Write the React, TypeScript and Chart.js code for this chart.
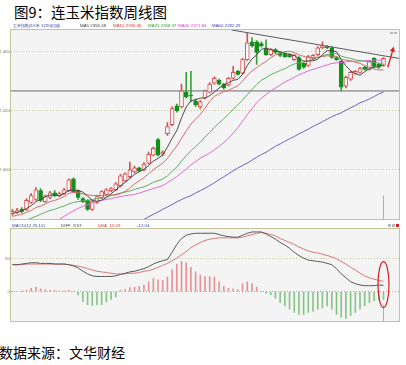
import React, { useEffect, useRef } from 'react';
import { Chart, registerables } from 'chart.js';

Chart.register(...registerables);

// ---------- weekly candles (price) ----------
const opens = [
  1853, 1857, 1867, 1867, 1890, 1900, 1930, 1893, 1907, 1923,
  1913, 1920, 1930, 1970, 1930, 1903, 1897, 1867, 1890, 1907,
  1917, 1930, 1933, 1947, 1963, 1977, 1993, 2007, 2000, 2023,
  2050, 2103, 2053, 2123, 2153, 2217, 2213, 2263, 2253, 2233,
  2213, 2243, 2263, 2293, 2303, 2290, 2287, 2310, 2333, 2327,
  2373, 2433, 2433, 2427, 2413, 2390, 2407, 2397, 2393, 2390,
  2373, 2380, 2360, 2353, 2377, 2390, 2413, 2417, 2413, 2380,
  2367, 2283, 2307, 2327, 2330, 2347, 2340, 2377, 2357, 2353,
];
const closes = [
  1860, 1863, 1860, 1897, 1913, 1933, 1897, 1910, 1923, 1913,
  1920, 1933, 1967, 1927, 1907, 1893, 1867, 1893, 1910, 1927,
  1933, 1937, 1953, 1980, 1987, 2000, 2007, 1997, 2020, 2053,
  2073, 2050, 2060, 2147, 2207, 2200, 2267, 2247, 2250, 2220,
  2230, 2267, 2290, 2310, 2290, 2277, 2310, 2330, 2323, 2373,
  2430, 2420, 2397, 2420, 2390, 2407, 2397, 2387, 2383, 2383,
  2387, 2340, 2347, 2383, 2387, 2413, 2420, 2413, 2380, 2373,
  2280, 2313, 2330, 2333, 2343, 2340, 2367, 2350, 2347, 2377,
];
const highs = [
  1867, 1870, 1873, 1903, 1920, 1940, 1937, 1915, 1928, 1930,
  1925, 1938, 1970, 1973, 1933, 1907, 1900, 1898, 1915, 1930,
  1937, 1940, 1957, 1985, 1990, 2027, 2013, 2010, 2025, 2060,
  2077, 2107, 2065, 2160, 2213, 2223, 2290, 2330, 2333, 2240,
  2235, 2270, 2295, 2315, 2307, 2293, 2313, 2350, 2337, 2377,
  2463, 2447, 2437, 2433, 2440, 2410, 2410, 2400, 2397, 2393,
  2390, 2383, 2363, 2387, 2390, 2417, 2433, 2420, 2417, 2383,
  2370, 2317, 2333, 2337, 2347, 2350, 2370, 2380, 2360, 2380,
];
const lows = [
  1847, 1853, 1855, 1863, 1887, 1897, 1893, 1890, 1903, 1910,
  1910, 1917, 1927, 1923, 1900, 1890, 1863, 1863, 1887, 1903,
  1913, 1927, 1930, 1943, 1960, 1973, 1990, 1993, 1997, 2020,
  2047, 2047, 2047, 2117, 2150, 2195, 2210, 2243, 2230, 2215,
  2208, 2240, 2260, 2290, 2287, 2273, 2283, 2307, 2320, 2323,
  2370, 2415, 2357, 2415, 2387, 2387, 2393, 2383, 2380, 2380,
  2370, 2337, 2343, 2350, 2373, 2387, 2410, 2410, 2377, 2370,
  2267, 2277, 2303, 2323, 2327, 2337, 2337, 2347, 2343, 2350,
];

// ---------- moving averages ----------
const ma5 = [
  1853, 1857, 1860, 1870, 1879, 1893, 1900, 1910, 1915, 1915,
  1913, 1920, 1931, 1932, 1931, 1925, 1912, 1897, 1894, 1898,
  1906, 1920, 1932, 1946, 1958, 1971, 1985, 1994, 2002, 2015,
  2030, 2039, 2051, 2077, 2107, 2133, 2176, 2213, 2234, 2237,
  2243, 2243, 2251, 2263, 2277, 2287, 2295, 2303, 2306, 2323,
  2353, 2375, 2389, 2408, 2411, 2407, 2402, 2400, 2393, 2391,
  2387, 2376, 2368, 2368, 2369, 2374, 2390, 2403, 2403, 2400,
  2373, 2352, 2335, 2326, 2320, 2332, 2343, 2347, 2349, 2356,
];
const ma10 = [
  1843, 1847, 1850, 1857, 1863, 1873, 1878, 1885, 1893, 1897,
  1903, 1910, 1921, 1924, 1923, 1919, 1916, 1914, 1913, 1914,
  1916, 1916, 1915, 1920, 1928, 1939, 1953, 1963, 1974, 1987,
  2001, 2012, 2023, 2039, 2061, 2081, 2107, 2132, 2155, 2172,
  2188, 2209, 2232, 2249, 2257, 2265, 2269, 2277, 2285, 2300,
  2320, 2335, 2346, 2357, 2367, 2380, 2389, 2394, 2400, 2401,
  2397, 2389, 2384, 2380, 2380, 2381, 2383, 2386, 2385, 2384,
  2374, 2371, 2369, 2364, 2360, 2353, 2347, 2341, 2338, 2338,
];
const ma20 = [
  1813, 1820, 1823, 1830, 1837, 1843, 1850, 1857, 1863, 1867,
  1873, 1878, 1885, 1890, 1893, 1896, 1897, 1900, 1903, 1906,
  1909, 1913, 1918, 1922, 1925, 1929, 1934, 1939, 1943, 1950,
  1958, 1964, 1969, 1980, 1995, 2010, 2030, 2048, 2065, 2079,
  2094, 2111, 2127, 2144, 2159, 2173, 2188, 2205, 2220, 2236,
  2254, 2272, 2289, 2303, 2312, 2322, 2329, 2336, 2342, 2351,
  2358, 2362, 2365, 2369, 2373, 2380, 2386, 2390, 2393, 2393,
  2385, 2380, 2377, 2372, 2370, 2367, 2365, 2363, 2361, 2361,
];
const ma30 = [
  null, null, null, null, null, null, null, null, null, null,
  1833, 1843, 1853, 1862, 1870, 1877, 1883, 1888, 1893, 1897,
  1900, 1903, 1907, 1910, 1913, 1915, 1917, 1922, 1927, 1932,
  1937, 1942, 1947, 1957, 1967, 1978, 1990, 2003, 2017, 2028,
  2040, 2048, 2057, 2068, 2080, 2093, 2107, 2125, 2143, 2165,
  2187, 2207, 2227, 2243, 2255, 2267, 2277, 2287, 2297, 2305,
  2313, 2322, 2328, 2335, 2340, 2345, 2350, 2355, 2360, 2362,
  2363, 2365, 2367, 2367, 2368, 2369, 2370, 2371, 2371, 2372,
];
const ma60 = [
  null, null, null, null, null, null, null, null, null, null,
  null, null, null, null, null, null, null, null, null, null,
  null, null, null, null, null, null, 1817, 1825, 1833, 1842,
  1850, 1858, 1867, 1875, 1883, 1892, 1900, 1907, 1913, 1922,
  1930, 1938, 1947, 1957, 1967, 1977, 1987, 1997, 2007, 2015,
  2023, 2033, 2043, 2052, 2060, 2070, 2080, 2088, 2097, 2105,
  2113, 2122, 2130, 2138, 2147, 2155, 2163, 2172, 2180, 2187,
  2193, 2202, 2210, 2218, 2227, 2233, 2240, 2248, 2257, 2263,
];

// ---------- MACD ----------
const diff = [
  41, 41, 42, 43, 44, 44, 43, 43, 43, 42,
  42, 42, 41, 39, 36, 31, 27, 24, 23, 23,
  23, 23, 24, 26, 28, 30, 31, 33, 35, 38,
  42, 45, 47, 49, 60, 72, 81, 86, 88, 89,
  89, 89, 89, 89, 87, 85, 84, 83, 83, 86,
  89, 91, 91, 91, 88, 84, 80, 75, 71, 66,
  60, 55, 51, 48, 47, 46, 45, 43, 41, 35,
  27, 21, 15, 12, 10, 9, 9, 9, 10, 9.57,
];
const dea = [
  41, 41, 41, 42, 42, 42, 42, 42, 42, 42,
  42, 42, 41, 40, 39, 37, 35, 33, 31, 30,
  29, 28, 27, 27, 27, 28, 28, 29, 31, 32,
  34, 37, 40, 43, 47, 51, 56, 61, 67, 71,
  75, 78, 80, 81, 82, 82, 82, 82, 82, 83,
  85, 87, 89, 90, 89, 87, 85, 81, 78, 75,
  72, 68, 65, 62, 60, 59, 57, 55, 53, 50,
  46, 42, 37, 33, 28, 24, 21, 19, 17, 15.59,
];
const macdHist = [
  0, 0, 1, 2, 5, 7, 4, 3, 2, 2,
  1, 1, 2, 0, -5, -15, -20, -21, -20, -20,
  -16, -12, -8, 2, 3, 6, 7, 8, 10, 15,
  20, 18, 17, 22, 33, 42, 46, 44, 37, 30,
  25, 23, 23, 22, 15, 8, 5, 4, 3, 12,
  15, 12, 7, 0, -3, -5, -10, -17, -22, -27,
  -32, -35, -35, -32, -30, -27, -25, -22, -27, -35,
  -39, -41, -37, -32, -27, -22, -17, -14, -13, -12.04,
];

const priceTicks = [2000, 2200, 2400];
const macdTicks = [0, 50];
const supportLevel = 2267;
const trendStart = { x: 46.7, y: 2473 };
const trendEnd = { x: 82.3, y: 2377 };
const arrowFrom = { x: 79.9, y: 2347 };
const arrowTo = { x: 81.2, y: 2417 };
const cursorIndex = 79;

const mainLegend = [
  { text: '玉米指数(DCE 1220)周线', color: '#2a3f9a', x: 13 },
  { text: 'MA5 2355.48', color: '#404040', x: 80 },
  { text: 'MA10 2336.46', color: '#d04040', x: 113 },
  { text: 'MA20 2358.37', color: '#30a030', x: 148 },
  { text: 'MA30 2371.84', color: '#d040d0', x: 178 },
  { text: 'MA60 2282.29', color: '#4040c0', x: 212 },
];
const macdLegend = [
  { text: 'MACD(12,26,10)', color: '#3a4aa0', x: 12 },
  { text: 'DIFF  9.57', color: '#404040', x: 61 },
  { text: 'DEA  15.59', color: '#d04040', x: 98 },
  { text: '-12.04', color: '#3a4aa0', x: 137 },
];

const X_MIN = -0.3;
const X_MAX = 82.3;
const PANEL_BG = '#f4f4f4';
const BORDER = '#c4c49a';
const GRID = '#c8c890';
const UP = '#d85050';
const DOWN = '#12901a';
const WICK_DOWN = '#3aa03a';
const TINY = '"Liberation Sans", "DejaVu Sans", sans-serif';

const pts = (arr: (number | null)[]) => arr.map((v, i) => ({ x: i, y: v }));

function panelPlugin(id: string, legend: { text: string; color: string; x: number }[], legendY: number, extra: (chart: any) => void) {
  return {
    id,
    beforeDraw(chart: any) {
      const { ctx, chartArea: a } = chart;
      ctx.save();
      ctx.fillStyle = PANEL_BG;
      ctx.fillRect(a.left, a.top, a.right - a.left, a.bottom - a.top);
      ctx.restore();
    },
    afterDraw(chart: any) {
      const { ctx, chartArea: a } = chart;
      ctx.save();
      ctx.strokeStyle = BORDER;
      ctx.lineWidth = 1;
      ctx.strokeRect(Math.round(a.left) - 0.5, Math.round(a.top) - 0.5, Math.round(a.right - a.left) + 1, Math.round(a.bottom - a.top) + 1);
      ctx.font = '4.4px ' + TINY;
      ctx.textBaseline = 'middle';
      ctx.textAlign = 'left';
      legend.forEach((l) => {
        ctx.fillStyle = l.color;
        ctx.fillText(l.text, l.x, legendY);
      });
      extra(chart);
      ctx.restore();
    },
  };
}

export default function App() {
  const mainRef = useRef<HTMLCanvasElement>(null);
  const macdRef = useRef<HTMLCanvasElement>(null);

  useEffect(() => {
    const isUp = (i: number) => closes[i] >= opens[i];

    const mainExtra = (chart: any) => {
      const { ctx, scales, chartArea: a } = chart;
      const xs = scales.x;
      const ys = scales.y;
      const cx = Math.round(xs.getPixelForValue(cursorIndex)) + 0.5;
      ctx.strokeStyle = '#a9aad6';
      ctx.lineWidth = 1;
      ctx.beginPath();
      ctx.moveTo(cx, ys.getPixelForValue(1913));
      ctx.lineTo(cx, a.bottom);
      ctx.stroke();
      const x1 = xs.getPixelForValue(arrowFrom.x);
      const y1 = ys.getPixelForValue(arrowFrom.y);
      const x2 = xs.getPixelForValue(arrowTo.x);
      const y2 = ys.getPixelForValue(arrowTo.y);
      const ang = Math.atan2(y2 - y1, x2 - x1);
      ctx.strokeStyle = '#e01818';
      ctx.fillStyle = '#e01818';
      ctx.lineWidth = 1.3;
      ctx.beginPath();
      ctx.moveTo(x1, y1);
      ctx.lineTo(x2 - 3 * Math.cos(ang), y2 - 3 * Math.sin(ang));
      ctx.stroke();
      ctx.beginPath();
      ctx.moveTo(x2, y2);
      ctx.lineTo(x2 - 5 * Math.cos(ang) + 2.5 * Math.sin(ang), y2 - 5 * Math.sin(ang) - 2.5 * Math.cos(ang));
      ctx.lineTo(x2 - 5 * Math.cos(ang) - 2.5 * Math.sin(ang), y2 - 5 * Math.sin(ang) + 2.5 * Math.cos(ang));
      ctx.closePath();
      ctx.fill();
      ctx.fillStyle = '#b8b8b8';
      ctx.fillRect(a.right - 9, a.top + 2, 3, 2);
      ctx.fillRect(a.right - 5, a.top + 2, 3, 2);
    };

    const macdExtra = (chart: any) => {
      const { ctx, scales, chartArea: a } = chart;
      const xs = scales.x;
      const ys = scales.y;
      const cx = Math.round(xs.getPixelForValue(cursorIndex)) + 0.5;
      ctx.strokeStyle = '#a9aad6';
      ctx.lineWidth = 1;
      ctx.beginPath();
      ctx.moveTo(cx, ys.getPixelForValue(-20));
      ctx.lineTo(cx, a.bottom);
      ctx.stroke();
      ctx.strokeStyle = '#d42020';
      ctx.lineWidth = 1.2;
      ctx.beginPath();
      ctx.ellipse(xs.getPixelForValue(79), ys.getPixelForValue(10.6), 5.5, 23, 0, 0, Math.PI * 2);
      ctx.stroke();
      ctx.fillStyle = '#b8b8b8';
      ctx.fillRect(a.right - 11, 1, 3, 3);
      ctx.fillRect(a.right - 7, 1, 3, 3);
      ctx.fillStyle = '#e02020';
      ctx.fillRect(a.right - 3, 1, 3, 3);
    };

    const lineDs = (label: string, data: (number | null)[], color: string) => ({
      type: 'line' as const,
      label,
      data: pts(data),
      borderColor: color,
      borderWidth: 1,
      pointRadius: 0,
      tension: 0,
      order: 0,
    });

    const yAxisCommon = {
      afterFit: (s: any) => { s.width = 11; },
      ticks: { font: { size: 4.4, family: TINY }, color: '#7a7a5a', padding: 1 },
      border: { display: false, dash: [1, 2] },
    };

    const c1 = new Chart(mainRef.current as HTMLCanvasElement, {
      type: 'bar',
      data: {
        datasets: [
          lineDs('MA5', ma5, '#4a4a4a'),
          lineDs('MA10', ma10, '#d46a6a'),
          lineDs('MA20', ma20, '#5cb05c'),
          lineDs('MA30', ma30, '#dc6ad8'),
          lineDs('MA60', ma60, '#6a62c4'),
          {
            type: 'line' as const,
            label: 'trend',
            data: [trendStart, trendEnd],
            borderColor: '#5a5a5a',
            borderWidth: 1,
            pointRadius: 0,
            order: 0,
          },
          {
            type: 'line' as const,
            label: 'support',
            data: [{ x: X_MIN, y: supportLevel }, { x: X_MAX, y: supportLevel }],
            borderColor: '#6a6a6a',
            borderWidth: 1,
            pointRadius: 0,
            order: 3,
          },
          {
            type: 'bar' as const,
            label: 'body',
            data: opens.map((o, i) => ({ x: i, y: [o, closes[i]] })) as any,
            backgroundColor: (c: any) => (isUp(c.dataIndex) ? '#fbfbfb' : DOWN),
            borderColor: (c: any) => (isUp(c.dataIndex) ? UP : DOWN),
            borderWidth: 1,
            borderSkipped: false,
            barThickness: 4,
            minBarLength: 1,
            grouped: false,
            order: 1,
          },
          {
            type: 'bar' as const,
            label: 'wick',
            data: lows.map((l, i) => ({ x: i, y: [l, highs[i]] })) as any,
            backgroundColor: (c: any) => (isUp(c.dataIndex) ? UP : WICK_DOWN),
            borderWidth: 0,
            barThickness: 1,
            grouped: false,
            order: 2,
          },
        ] as any,
      },
      options: {
        responsive: false,
        animation: false,
        layout: { padding: { left: 0, right: 7, top: 10, bottom: 1 } },
        plugins: { legend: { display: false }, tooltip: { enabled: false } },
        scales: {
          x: { type: 'linear', min: X_MIN, max: X_MAX, display: false, offset: false },
          y: {
            ...yAxisCommon,
            min: 1833,
            max: 2473,
            afterBuildTicks: (s: any) => { s.ticks = priceTicks.map((v) => ({ value: v })); },
            grid: { color: GRID, drawTicks: false, lineWidth: 1 },
          },
        },
      } as any,
      plugins: [panelPlugin('mainPanel', mainLegend, 6, mainExtra)],
    });

    const c2 = new Chart(macdRef.current as HTMLCanvasElement, {
      type: 'bar',
      data: {
        datasets: [
          lineDs('DIFF', diff, '#5a5a5a'),
          lineDs('DEA', dea, '#d87878'),
          {
            type: 'bar' as const,
            label: 'MACD',
            data: pts(macdHist) as any,
            backgroundColor: (c: any) => (macdHist[c.dataIndex] >= 0 ? '#e49494' : '#88c488'),
            borderWidth: 0,
            barThickness: 1,
            grouped: false,
            order: 1,
          },
        ] as any,
      },
      options: {
        responsive: false,
        animation: false,
        layout: { padding: { left: 0, right: 7, top: 6, bottom: 3 } },
        plugins: { legend: { display: false }, tooltip: { enabled: false } },
        scales: {
          x: { type: 'linear', min: X_MIN, max: X_MAX, display: false, offset: false },
          y: {
            ...yAxisCommon,
            min: -45.5,
            max: 95.5,
            afterBuildTicks: (s: any) => { s.ticks = macdTicks.map((v) => ({ value: v })); },
            grid: {
              color: (c: any) => (c.tick && c.tick.value === 0 ? '#8cb88c' : GRID),
              drawTicks: false,
              lineWidth: 1,
            },
          },
        },
      } as any,
      plugins: [panelPlugin('macdPanel', macdLegend, 2.5, macdExtra)],
    });

    return () => {
      c1.destroy();
      c2.destroy();
    };
  }, []);

  return (
    <div style={{ position: 'absolute', left: 0, top: 0, width: 406, height: 365, background: '#ffffff', overflow: 'hidden' }}>
      <div
        style={{
          position: 'absolute', left: 14, top: 3, fontFamily: '"Noto Sans CJK SC", sans-serif',
          fontSize: '14.5px', lineHeight: '18px', color: '#000', whiteSpace: 'nowrap',
        }}
      >
        图9：连玉米指数周线图
      </div>
      <canvas ref={mainRef} width={406} height={203} style={{ position: 'absolute', left: 0, top: 20 }} />
      <canvas ref={macdRef} width={406} height={102} style={{ position: 'absolute', left: 0, top: 223 }} />
      <div
        style={{
          position: 'absolute', left: -1, top: 344, fontFamily: '"Noto Sans CJK SC", sans-serif',
          fontSize: '14px', lineHeight: '16px', color: '#000', whiteSpace: 'nowrap',
        }}
      >
        数据来源：文华财经
      </div>
    </div>
  );
}
